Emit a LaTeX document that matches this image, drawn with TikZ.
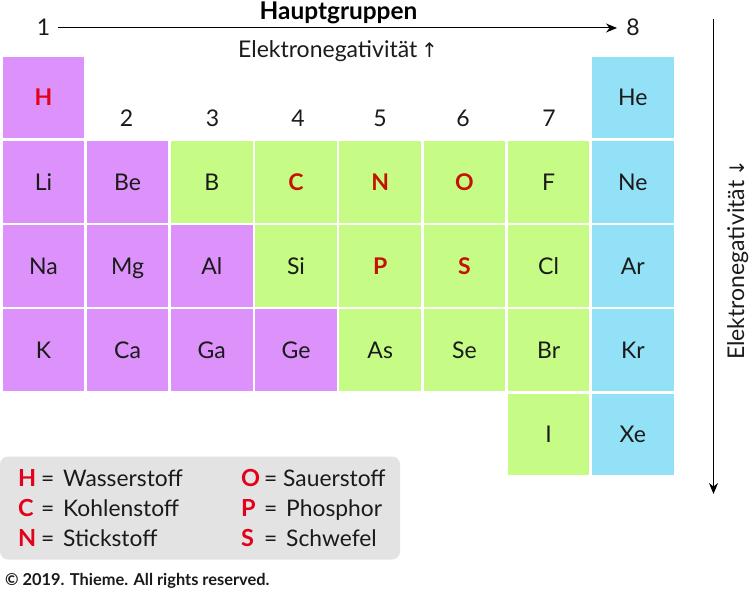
\documentclass[tikz,border=0pt]{standalone}
\usepackage{fontspec}
\setmainfont{Lato}
\newfontfamily\arrowfont{DejaVu Sans}
\usetikzlibrary{arrows.meta}
\definecolor{cpurple}{HTML}{DD91FB}
\definecolor{cgreen}{HTML}{C6FC85}
\definecolor{cblue}{HTML}{93E1F7}
\definecolor{cred}{HTML}{C41200}
\definecolor{cbrightred}{HTML}{E2001A}
\definecolor{cgrey}{HTML}{E3E3E3}
\definecolor{ctext}{HTML}{1A1A1A}
\tikzset{
  x=1pt,y=-1pt,
  txt/.style={font=\fontsize{23}{27}\selectfont,text=ctext,inner sep=0pt,anchor=base},
  lbl/.style={font=\fontsize{22.8}{27}\selectfont,text=ctext,inner sep=0pt,anchor=base west},
  cell/.style={minimum width=81.5pt,minimum height=81.5pt,inner sep=0pt,font=\fontsize{23}{27}\selectfont,text=ctext,text height=17pt,text depth=0pt},
  pu/.style={cell,fill=cpurple},
  gr/.style={cell,fill=cgreen},
  bl/.style={cell,fill=cblue},
  elem/.style={font=\fontsize{23}{27}\selectfont\bfseries,text=cred},
  key/.style={font=\fontsize{23.5}{27}\selectfont\bfseries,text=cbrightred,inner sep=0pt,anchor=base west},
  axis/.style={draw=black,line width=1pt,-{Stealth[length=11pt,width=9pt]}},
}
\begin{document}
\begin{tikzpicture}
\useasboundingbox (0,0) rectangle (750,591);
% row 1
\node[pu,elem,text=cbrightred] (H) at (43.5,97.5) {H};
\node[bl] (He) at (632.8,97.5) {He};
% row 2
\node[pu] (Li) at (43.5,181.8) {Li};
\node[pu] (Be) at (127.6,181.8) {Be};
\node[gr] (B) at (211.8,181.8) {B};
\node[gr,elem] (C) at (296,181.8) {C};
\node[gr,elem] (N) at (380.2,181.8) {N};
\node[gr,elem] (O) at (464.4,181.8) {O};
\node[gr] (F) at (548.6,181.8) {F};
\node[bl] (Ne) at (632.8,181.8) {Ne};
% row 3
\node[pu] (Na) at (43.5,266) {Na};
\node[pu] (Mg) at (127.6,266) {Mg};
\node[pu] (Al) at (211.8,266) {Al};
\node[gr] (Si) at (296,266) {Si};
\node[gr,elem] (P) at (380.2,266) {P};
\node[gr,elem] (S) at (464.4,266) {S};
\node[gr] (Cl) at (548.6,266) {Cl};
\node[bl] (Ar) at (632.8,266) {Ar};
% row 4
\node[pu] (K) at (43.5,350.2) {K};
\node[pu] (Ca) at (127.6,350.2) {Ca};
\node[pu] (Ga) at (211.8,350.2) {Ga};
\node[pu] (Ge) at (296,350.2) {Ge};
\node[gr] (As) at (380.2,350.2) {As};
\node[gr] (Se) at (464.4,350.2) {Se};
\node[gr] (Br) at (548.6,350.2) {Br};
\node[bl] (Kr) at (632.8,350.2) {Kr};
% row 5
\node[gr] (I) at (548.6,434.4) {I};
\node[bl] (Xe) at (632.8,434.4) {Xe};
% group numbers
\node[txt] (g1) at (43.5,35.5) {1};
\node[txt] (g2) at (126.5,127) {2};
\node[txt] (g3) at (212.5,127) {3};
\node[txt] (g4) at (298,127) {4};
\node[txt] (g5) at (380,127) {5};
\node[txt] (g6) at (463,127) {6};
\node[txt] (g7) at (549,127) {7};
\node[txt] (g8) at (633,35.5) {8};
% headings
\node[font=\fontsize{24.4}{28}\selectfont\bfseries,text=black,inner sep=0pt,anchor=base] (head) at (338.5,20) {Hauptgruppen};
\node[txt] (en1) at (338,58) {Elektronegativität\,{\arrowfont\fontsize{20}{24}\selectfont ↑}};
\coordinate (hs) at (58,28);
\coordinate (he) at (617,28);
\draw[axis] (hs) -- (he);
\coordinate (vs) at (713.5,19);
\coordinate (ve) at (713.5,494);
\draw[axis] (vs) -- (ve);
\node[font=\fontsize{23}{27}\selectfont,text=ctext,inner sep=0pt,rotate=90,anchor=base] (en2) at (744,260) {Elektronegativität\,{\arrowfont\fontsize{20}{24}\selectfont ↓}};
% legend
\node[fill=cgrey,rounded corners=8pt,minimum width=400pt,minimum height=103pt,inner sep=0pt] (legend) at (200,508) {};
\node[key] (kH) at (18,486) {H};
\node[lbl] (eH) at (41,486) {=};
\node[lbl] (tH) at (63,486) {Wasserstoff};
\node[key] (kC) at (18,516) {C};
\node[lbl] (eC) at (41,516) {=};
\node[lbl] (tC) at (63,516) {Kohlenstoff};
\node[key] (kN) at (18,546) {N};
\node[lbl] (eN) at (41,546) {=};
\node[lbl] (tN) at (63,546) {Stickstoff};
\node[key] (kO) at (241,486) {O};
\node[lbl] (eO) at (264,486) {=};
\node[lbl] (tO) at (283,486) {Sauerstoff};
\node[key] (kP) at (241,516) {P};
\node[lbl] (eP) at (264,516) {=};
\node[lbl] (tP) at (286,516) {Phosphor};
\node[key] (kS) at (241,546) {S};
\node[lbl] (eS) at (264,546) {=};
\node[lbl] (tS) at (286,546) {Schwefel};
% copyright
\node[font=\fontsize{16.4}{20}\selectfont\bfseries,text=ctext,inner sep=0pt,anchor=base west] (copy) at (5,585) {© 2019. Thieme. All rights reserved.};
\end{tikzpicture}
\end{document}
